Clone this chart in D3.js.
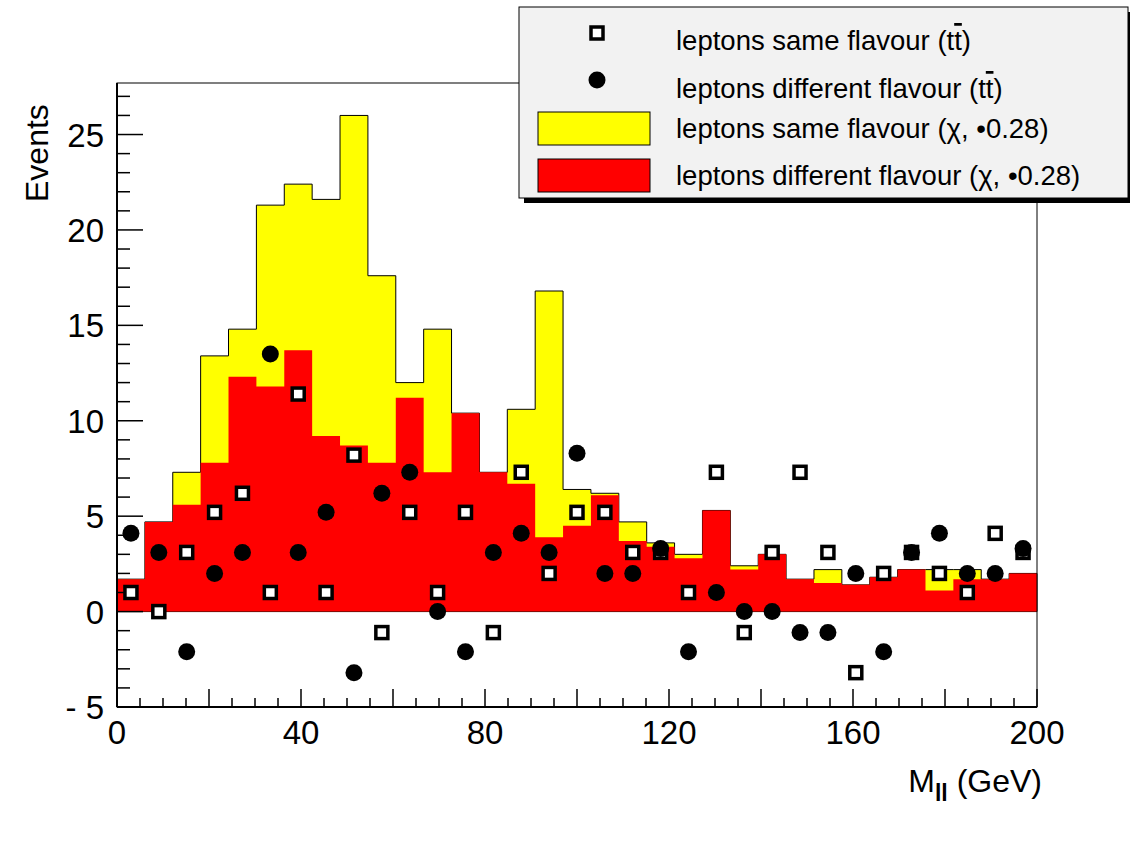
<!DOCTYPE html>
<meta charset="utf-8">
<style>
body { margin: 0; background: #fff; }
text { font-family: "Liberation Sans", Arial, sans-serif; fill: #000; }
</style>
<svg width="1130" height="853"></svg>
<script src="https://d3js.org/d3.v7.min.js"></script>
<script>

var nBins = 33, xMin = 0, xMax = 200;
// stacked histogram totals (yellow = same flavour on top of red)
var sameFlavourHist = [1.7,4.7,7.3,13.4,14.8,21.3,22.4,21.6,26.0,17.6,12.0,14.8,10.4,7.3,10.6,16.8,6.4,6.2,4.7,3.6,3.0,5.3,2.4,3.0,1.7,2.2,1.4,1.8,2.2,2.2,2.2,1.7,2.0];
var diffFlavourHist = [1.7,4.7,5.6,7.8,12.3,11.8,13.7,9.2,8.7,7.8,11.2,7.3,10.4,7.3,6.7,3.9,4.5,6.1,3.7,3.4,2.8,5.3,2.2,3.0,1.7,1.5,1.4,1.8,2.2,1.1,1.7,1.7,2.0];
var samePoints = [1,0,3.1,5.2,6.2,1,11.4,1,8.2,-1.1,5.2,1,5.2,-1.1,7.3,2.0,5.2,5.2,3.1,3.1,1,7.3,-1.1,3.1,7.3,3.1,-3.2,2.0,3.1,2.0,1,4.1,3.1];
var diffPoints = [4.1,3.1,-2.1,2.0,3.1,13.5,3.1,5.2,-3.2,6.2,7.3,0,-2.1,3.1,4.1,3.1,8.3,2.0,2.0,3.3,-2.1,1,0,0,-1.1,-1.1,2.0,-2.1,3.1,4.1,2.0,2.0,3.3];
var xTicks = [0, 40, 80, 120, 160, 200];
var yTicks = [-5, 0, 5, 10, 15, 20, 25];
var legendLabels = ["leptons same flavour (t", "leptons different flavour (t", "leptons same flavour (\u03C7, \u20220.28)", "leptons different flavour (\u03C7, \u20220.28)"];

var svg = d3.select("svg");
var L = 117, R = 1037, T = 83, B = 707;
var x = d3.scaleLinear().domain([xMin, xMax]).range([L, R]);
var y = d3.scaleLinear().domain([-5, 27.7]).range([B, T]);
var bw = (xMax - xMin) / nBins;

function histPath(vals) {
  var p = "M" + x(0) + "," + y(0);
  vals.forEach(function(v, i) {
    p += "L" + x(i * bw) + "," + y(v) + "L" + x((i + 1) * bw) + "," + y(v);
  });
  return p + "L" + x(xMax) + "," + y(0) + "Z";
}

svg.append("path").attr("d", histPath(sameFlavourHist)).attr("fill", "#ffff00").attr("stroke", "#000").attr("stroke-width", 1);
svg.append("path").attr("d", histPath(diffFlavourHist)).attr("fill", "#ff0000").attr("stroke", "none");

// frame
svg.append("rect").attr("x", L).attr("y", T).attr("width", R - L).attr("height", B - T)
  .attr("fill", "none").attr("stroke", "#000").attr("stroke-width", 1);

// axes
var xAxis = svg.append("g");
xAxis.append("line").attr("x1", L).attr("x2", R).attr("y1", B).attr("y2", B).attr("stroke", "#000").attr("stroke-width", 2);
d3.range(0, 201, 5).forEach(function(v) {
  var len = v % 20 === 0 ? 18 : 9;
  xAxis.append("line").attr("x1", x(v)).attr("x2", x(v)).attr("y1", B).attr("y2", B - len).attr("stroke", "#000").attr("stroke-width", 1.5);
});
xAxis.selectAll("text.tick").data(xTicks).enter().append("text")
  .attr("x", function(d) { return x(d); }).attr("y", B + 37)
  .attr("text-anchor", "middle").attr("font-size", 33).text(function(d) { return d; });

var yAxis = svg.append("g");
yAxis.append("line").attr("x1", L).attr("x2", L).attr("y1", T).attr("y2", B).attr("stroke", "#000").attr("stroke-width", 2);
d3.range(-5, 28, 1).forEach(function(v) {
  var len = v % 5 === 0 ? 26 : 13;
  yAxis.append("line").attr("x1", L).attr("x2", L + len).attr("y1", y(v)).attr("y2", y(v)).attr("stroke", "#000").attr("stroke-width", 1.5);
});
yAxis.selectAll("text.tick").data(yTicks).enter().append("text")
  .attr("x", L - 13).attr("y", function(d) { return y(d) + 12; })
  .attr("text-anchor", "end").attr("font-size", 33).text(function(d) { return d < 0 ? "- " + (-d) : d; });

svg.append("text").attr("transform", "translate(48,202) rotate(-90)").attr("text-anchor", "start")
  .attr("font-size", 32).text("Events");
var xl = svg.append("text").attr("x", 1042).attr("y", 792).attr("text-anchor", "end").attr("font-size", 32);
xl.append("tspan").text("M");
xl.append("tspan").attr("dy", 9).attr("font-size", 23).attr("font-weight", "bold").text("ll");
xl.append("tspan").attr("dy", -9).text(" (GeV)");

// markers
var cx = function(i) { return x((i + 0.5) * bw); };
svg.selectAll("rect.sq").data(samePoints).enter().append("rect")
  .attr("x", function(d, i) { return cx(i) - 6; }).attr("y", function(d) { return y(d) - 6; })
  .attr("width", 12).attr("height", 12).attr("fill", "#fff").attr("stroke", "#000").attr("stroke-width", 3.5);
svg.selectAll("circle.pt").data(diffPoints).enter().append("circle")
  .attr("cx", function(d, i) { return cx(i); }).attr("cy", function(d) { return y(d); })
  .attr("r", 8.5).attr("fill", "#000");

// legend
var lg = svg.append("g");
lg.append("rect").attr("x", 524).attr("y", 12).attr("width", 609).attr("height", 191).attr("fill", "#000");
lg.append("rect").attr("x", 519).attr("y", 7).attr("width", 609).attr("height", 191).attr("fill", "#f2f2f2").attr("stroke", "#000").attr("stroke-width", 1);
var rowY = [40, 88, 128, 175];
lg.append("rect").attr("x", 591).attr("y", rowY[0] - 13).attr("width", 12).attr("height", 12).attr("fill", "#fff").attr("stroke", "#000").attr("stroke-width", 3.5);
lg.append("circle").attr("cx", 597).attr("cy", rowY[1] - 8).attr("r", 8.5).attr("fill", "#000");
lg.append("rect").attr("x", 538).attr("y", 112).attr("width", 112).attr("height", 33).attr("fill", "#ffff00").attr("stroke", "#000");
lg.append("rect").attr("x", 538).attr("y", 159).attr("width", 112).attr("height", 33).attr("fill", "#ff0000").attr("stroke", "#000");
legendLabels.forEach(function(s, i) {
  var t = lg.append("text").attr("x", 676).attr("y", rowY[i] + 10).attr("font-size", 27.5)
    .attr("textLength", null);
  t.append("tspan").text(s);
  if (i < 2) {
    t.append("tspan").attr("text-decoration", "overline").text("t");
    t.append("tspan").text(")");
  }
});
</script>
